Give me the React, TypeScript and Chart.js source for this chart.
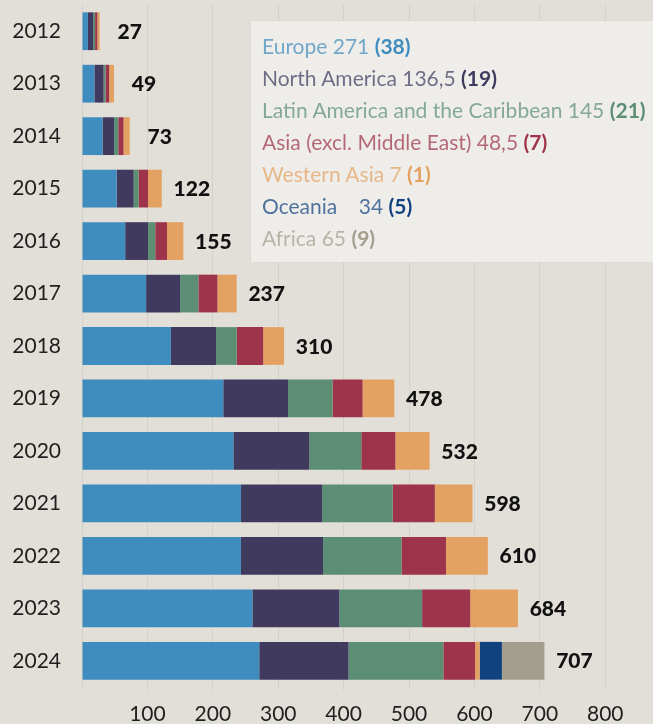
import React, { useEffect, useRef } from "react";
import { Chart, registerables } from "chart.js";

Chart.register(...registerables);

const years = ["2012", "2013", "2014", "2015", "2016", "2017", "2018", "2019", "2020", "2021", "2022", "2023", "2024"];
const europe = [9, 19, 31.5, 53, 66, 98, 136, 216, 231.5, 243, 243, 260.5, 271];
const northAmerica = [8, 14, 17.5, 26, 35, 52, 69, 99, 116, 124, 125.5, 133, 136.5];
const latinAmerica = [3, 3, 6.5, 7.5, 11, 28, 31.5, 68, 79.5, 108, 120, 126.5, 145];
const asia = [3.5, 5.5, 8, 14.5, 18, 29, 40.5, 46, 52, 64.5, 68, 73.5, 48.5];
const westernAsia = [3.5, 7.5, 9.5, 21, 25, 29.5, 32, 48.5, 52.5, 57.5, 64, 73, 7];
const oceania = [0, 0, 0, 0, 0, 0, 0, 0, 0, 0, 0, 0, 34];
const africa = [0, 0, 0, 0, 0, 0, 0, 0, 0, 0, 0, 0, 65];
const totals = [27, 49, 73, 122, 155, 237, 310, 478, 532, 598, 610, 684, 707];
const xTickValues = [0, 100, 200, 300, 400, 500, 600, 700, 800];

const seriesNames = ["Europe", "North America", "Latin America and the Caribbean", "Asia (excl. Middle East)", "Western Asia", "Oceania", "Africa"];
const seriesData = [europe, northAmerica, latinAmerica, asia, westernAsia, oceania, africa];
const seriesColors = ["#3f8cbe", "#403a5e", "#5b8e74", "#9e344b", "#e4a262", "#10427f", "#a39e8d"];
const legendValues = ["271", "136,5", "145", "48,5", "7", "34", "65"];
const legendCounts = ["38", "19", "21", "7", "1", "5", "9"];
const legendGaps = [" ", " ", " ", " ", " ", "    ", " "];

const FONT = "Lato, 'Open Sans', sans-serif";

const totalsPlugin = {
  id: "totals",
  afterDatasetsDraw(chart: any) {
    const ctx = chart.ctx;
    const xs = chart.scales.x;
    const meta = chart.getDatasetMeta(0);
    ctx.save();
    ctx.font = `900 21px ${FONT}`;
    ctx.fillStyle = "#111111";
    ctx.textAlign = "center";
    ctx.textBaseline = "alphabetic";
    years.forEach((_, i) => {
      let sum = 0;
      seriesData.forEach((s) => (sum += s[i]));
      const x = xs.getPixelForValue(sum) + 30;
      const y = meta.data[i].y;
      ctx.fillText(String(totals[i]), x, y + 7.6);
    });
    ctx.restore();
  },
};

const zeroPad = (scale: any) => {
  scale.paddingTop = 0;
  scale.paddingBottom = 0;
  scale.paddingLeft = 0;
  scale.paddingRight = 0;
};

export default function App() {
  const ref = useRef<HTMLCanvasElement | null>(null);

  useEffect(() => {
    document.body.style.margin = "0";
    document.body.style.background = "#e2dfd9";
    const canvas = ref.current;
    if (!canvas) return;
    const chart = new Chart(canvas, {
      type: "bar",
      data: {
        labels: years,
        datasets: seriesNames.map((name, k) => ({
          label: name,
          data: seriesData[k],
          backgroundColor: seriesColors[k],
          borderWidth: 0,
          categoryPercentage: 1,
          barPercentage: 0.72,
        })),
      },
      options: {
        indexAxis: "y",
        responsive: false,
        maintainAspectRatio: false,
        animation: false,
        layout: { padding: { top: 5, left: 0, right: 0, bottom: 0 } },
        plugins: {
          legend: { display: false },
          tooltip: { enabled: false },
        },
        scales: {
          x: {
            stacked: true,
            min: 0,
            max: 873,
            afterBuildTicks: (axis: any) => {
              axis.ticks = xTickValues.map((v) => ({ value: v }));
            },
            afterFit: (scale: any) => {
              scale.height = 37;
              zeroPad(scale);
            },
            grid: { color: "#d4d1ca", lineWidth: 1, drawTicks: true, tickLength: 3, tickColor: "#d4d1ca" },
            border: { display: false },
            ticks: {
              padding: 12,
              color: "#1f1f1f",
              font: { family: FONT, size: 21 },
              maxRotation: 0,
              autoSkip: false,
              callback: (v: any) => (Number(v) === 0 ? "" : String(v)),
            },
          },
          y: {
            stacked: true,
            afterFit: (scale: any) => {
              scale.width = 82;
              zeroPad(scale);
            },
            grid: { display: false, drawTicks: false },
            border: { display: false },
            ticks: {
              padding: 21,
              color: "#1f1f1f",
              font: { family: FONT, size: 21 },
            },
          },
        },
      },
      plugins: [totalsPlugin],
    });
    return () => chart.destroy();
  }, []);

  return (
    <div style={{ position: "relative", width: 653, height: 724, overflow: "hidden", background: "#e2dfd9" }}>
      <canvas ref={ref} width={653} height={724} style={{ display: "block", width: 653, height: 724 }} />
      <div
        style={{
          position: "absolute",
          left: 251,
          top: 21,
          width: 420,
          height: 241,
          background: "#efedea",
          boxShadow: "0 0 1px rgba(0,0,0,0.12)",
          boxSizing: "border-box",
          padding: "9px 0 0 11px",
          fontFamily: FONT,
          fontSize: 21,
          lineHeight: "32px",
          whiteSpace: "pre",
        }}
      >
        {seriesNames.map((name, k) => (
          <div key={name}>
            <span style={{ color: seriesColors[k], opacity: 0.72 }}>{name + legendGaps[k] + legendValues[k] + " "}</span>
            <span style={{ color: seriesColors[k], fontWeight: 700 }}>{"(" + legendCounts[k] + ")"}</span>
          </div>
        ))}
      </div>
    </div>
  );
}
